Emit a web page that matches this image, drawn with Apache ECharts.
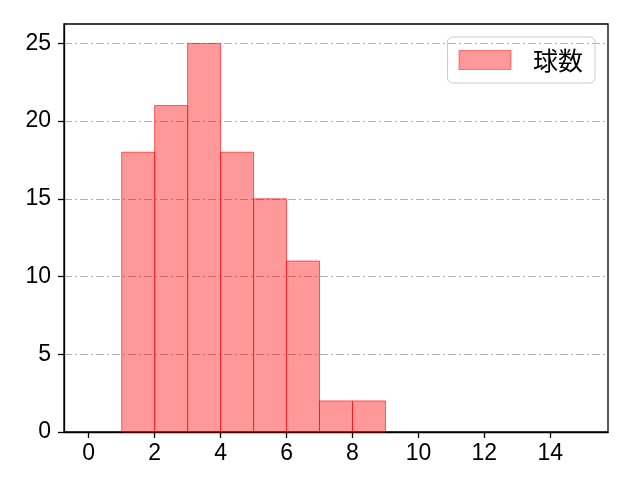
<!DOCTYPE html>
<html><head><meta charset="utf-8">
<script src="https://cdn.jsdelivr.net/npm/echarts@6/dist/echarts.min.js"></script>
<style>html,body{margin:0;padding:0;background:#fff}#c{width:640px;height:480px}</style>
</head><body><div id="c"></div>
<script>
const binStarts = [1, 2, 3, 4, 5, 6, 7, 8];
const binWidth = 1;
const counts = [18, 21, 25, 18, 15, 11, 2, 2];
const seriesName = '球数';
const xTicks = [0, 2, 4, 6, 8, 10, 12, 14];
const yTicks = [0, 5, 10, 15, 20, 25];

const data = binStarts.map((s, i) => [s, s + binWidth, counts[i]]);
const chart = echarts.init(document.getElementById('c'));
const numFont = "'Liberation Sans', 'DejaVu Sans', sans-serif";
const cjkFont = "'Noto Sans CJK JP', sans-serif";
chart.setOption({
  animation: false,
  grid: {left: 64, right: 32, top: 24, bottom: 48, show: true, borderColor: '#000', borderWidth: 1.3, backgroundColor: 'transparent'},
  legend: {
    right: 45, top: 37, padding: [10, 12, 10, 11],
    itemWidth: 52, itemHeight: 19, itemGap: 10,
    icon: 'rect',
    itemStyle: {borderWidth: 1, borderColor: 'rgba(255,0,0,0.45)'},
    borderColor: '#cccccc', borderWidth: 1, borderRadius: 5,
    textStyle: {fontSize: 25, lineHeight: 26, fontFamily: cjkFont, color: '#000', padding: [0, 0, 0, 17]},
    data: [seriesName]
  },
  xAxis: {
    type: 'value', min: -0.75, max: 15.75, interval: 2,
    axisLine: {show: true, onZero: false, lineStyle: {color: '#000', width: 1.3}},
    axisTick: {show: true, length: 6, lineStyle: {color: '#000', width: 1.3}, customValues: xTicks},
    axisLabel: {fontSize: 23, fontFamily: numFont, color: '#000', margin: 10, customValues: xTicks},
    splitLine: {show: false}
  },
  yAxis: {
    type: 'value', min: 0, max: 26.25, interval: 5,
    axisLine: {show: true, onZero: false, lineStyle: {color: '#000', width: 1.3}},
    axisTick: {show: true, length: 6, lineStyle: {color: '#000', width: 1.3}, customValues: yTicks},
    axisLabel: {fontSize: 23, fontFamily: numFont, color: '#000', margin: 13, customValues: yTicks},
    splitLine: {show: true, lineStyle: {color: '#b0b0b0', width: 1, type: [8, 3, 2, 3]}}
  },
  series: [{
    name: seriesName,
    type: 'custom',
    itemStyle: {color: 'rgba(255,0,0,0.4)', borderColor: 'rgba(255,0,0,0.45)', borderWidth: 1},
    encode: {x: [0, 1], y: 2},
    data: data,
    renderItem: function (params, api) {
      const p0 = api.coord([api.value(0), api.value(2)]);
      const p1 = api.coord([api.value(1), 0]);
      return {
        type: 'rect',
        shape: {x: p0[0], y: p0[1], width: p1[0] - p0[0], height: p1[1] - p0[1]},
        style: {fill: 'rgba(255,0,0,0.4)', stroke: 'rgba(255,0,0,0.6)', lineWidth: 1}
      };
    }
  }]
});
</script></body></html>
